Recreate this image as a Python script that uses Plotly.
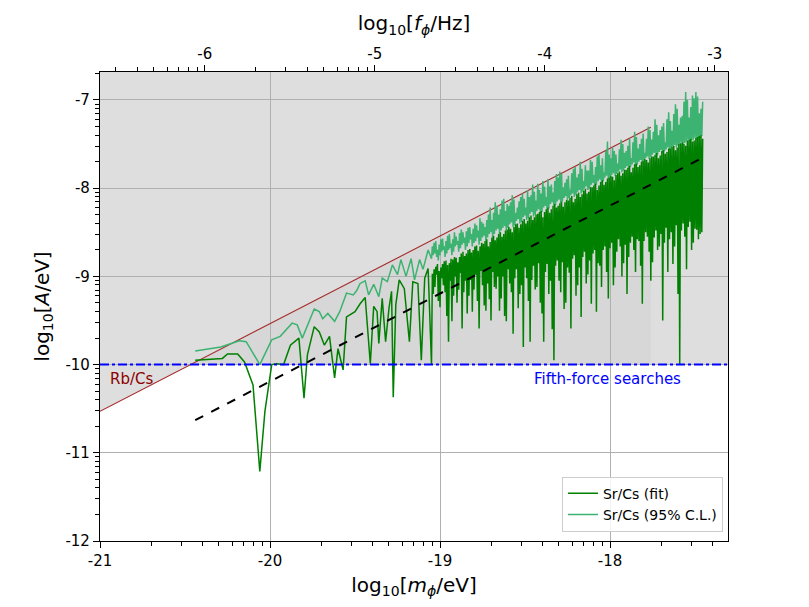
import numpy as np
import plotly.graph_objects as go

# axis limits (log10 of m / eV and log10 of A / eV)
X_RANGE = [-21.0, -17.306]
Y_RANGE = [-12.0, -6.683]
HZ_OFFSET = 14.3835   # log10(1/h), h in eV s -> f = m / h

x_ticks = [-21, -20, -19, -18]
y_ticks = [-12, -11, -10, -9, -8, -7]
f_ticks = [-6, -5, -4, -3]

# bounds
fifth_force_level = -10.0
rbcs_x = [-21.0, -17.76]
rbcs_y = [-10.53, -7.31]
trend_x = [-20.44, -17.46]
trend_y = [-10.63, -7.66]

# Sr/Cs (fit), low-mass part
fit_x = [-20.44, -20.28, -20.25, -20.19, -20.15, -20.10, -20.06, -20.03, -19.99, -19.96,
         -19.92, -19.88, -19.83, -19.80, -19.78, -19.74, -19.71, -19.68, -19.65, -19.62,
         -19.60, -19.57, -19.55, -19.50, -19.47, -19.44, -19.41, -19.39, -19.37, -19.36,
         -19.34, -19.32, -19.30, -19.285, -19.275, -19.26, -19.24, -19.21, -19.18, -19.16,
         -19.13, -19.11, -19.09, -19.07]
fit_y = [-9.95, -9.93, -9.88, -9.88, -9.97, -10.23, -11.21, -10.53, -10.00, -9.99,
         -10.00, -9.78, -9.70, -10.38, -9.89, -9.57, -9.63, -9.78, -9.68, -10.15,
         -9.82, -10.06, -9.46, -9.40, -9.31, -9.24, -9.99, -9.34, -9.40, -9.76,
         -9.25, -9.74, -9.36, -9.17, -10.37, -9.32, -9.04, -9.14, -9.74, -9.06,
         -9.08, -9.95, -9.02, -8.91]

# Sr/Cs (95% C.L.), low-mass part
cl_x = [-20.44, -20.29, -20.18, -20.14, -20.06, -19.99, -19.94, -19.87, -19.84, -19.81,
        -19.74, -19.71, -19.69, -19.66, -19.62, -19.59, -19.55, -19.51, -19.49, -19.47,
        -19.44, -19.42, -19.39, -19.36, -19.34, -19.31, -19.28, -19.25, -19.23, -19.20,
        -19.17, -19.15, -19.12, -19.10, -19.07]
cl_y = [-9.845, -9.80, -9.73, -9.74, -10.00, -9.72, -9.68, -9.53, -9.55, -9.70,
        -9.37, -9.40, -9.48, -9.42, -9.51, -9.40, -9.19, -9.21, -9.16, -9.08,
        -9.05, -9.21, -9.09, -9.23, -9.02, -9.06, -8.87, -8.98, -8.81, -9.00,
        -8.80, -9.04, -8.81, -8.92, -8.70]

# dense high-mass part, sampled every 0.005 from -19.05:
# per block of 0.02 -> low (a), high (b), low (b), high (a)
DENSE_START = -19.05
DENSE_STEP = 0.005

fit_lows_a = [-10.00, -9.12, -9.28, -9.02, -9.18, -9.74, -9.51, -9.00, -9.15, -9.59,
              -9.05, -9.22, -9.40, -8.98, -9.59, -9.10, -9.39, -9.26, -8.95, -9.14,
              -9.39, -9.00, -9.51, -9.08, -9.65, -8.92, -9.20, -9.80, -9.02, -9.74,
              -8.88, -9.12, -9.30, -9.74, -8.86, -9.05, -9.95, -8.82, -9.18, -9.37,
              -8.90, -9.59, -8.76, -9.10, -9.46, -8.72, -8.98, -9.31, -8.70, -8.85,
              -9.12, -8.66, -9.25, -8.62, -8.90, -8.58, -9.00, -8.64, -8.78, -8.55,
              -8.95, -8.60, -9.31, -8.50, -8.72, -8.84, -8.48, -8.66, -9.50, -8.45,
              -8.58, -8.86, -8.42, -10.00, -8.40, -8.92, -8.38, -8.62, -8.47, -8.52]
fit_lows_b = [-9.20, -8.98, -9.35, -9.10, -9.45, -9.05, -9.22, -9.30, -8.96, -9.18,
              -9.42, -9.04, -9.15, -9.28, -8.94, -9.33, -9.08, -9.50, -9.12, -9.00,
              -9.25, -9.45, -8.92, -9.18, -9.02, -9.36, -9.10, -8.90, -9.28, -9.04,
              -9.15, -8.85, -9.42, -8.95, -9.20, -9.60, -8.88, -9.05, -8.84, -9.30,
              -8.96, -8.80, -9.22, -8.90, -8.78, -9.08, -8.82, -8.74, -9.40, -8.88,
              -8.70, -8.95, -8.68, -9.10, -8.72, -8.66, -8.85, -9.20, -8.62, -8.70,
              -8.58, -8.88, -8.60, -8.55, -9.05, -8.56, -8.70, -8.52, -8.62, -8.95,
              -8.50, -8.66, -9.20, -8.48, -8.55, -8.44, -8.70, -8.46, -8.58, -8.50]
fit_highs_a = [-8.92, -8.86, -8.90, -8.83, -8.87, -8.80, -8.78, -8.84, -8.74, -8.77,
               -8.70, -8.73, -8.66, -8.71, -8.62, -8.60, -8.66, -8.56, -8.59, -8.52,
               -8.55, -8.48, -8.44, -8.50, -8.41, -8.45, -8.37, -8.40, -8.33, -8.36,
               -8.30, -8.27, -8.33, -8.24, -8.28, -8.20, -8.22, -8.17, -8.21, -8.13,
               -8.11, -8.16, -8.07, -8.10, -8.03, -8.06, -7.99, -7.97, -8.02, -7.93,
               -7.96, -7.89, -7.86, -7.91, -7.83, -7.86, -7.79, -7.77, -7.82, -7.73,
               -7.76, -7.70, -7.67, -7.71, -7.64, -7.62, -7.66, -7.58, -7.61, -7.55,
               -7.53, -7.57, -7.50, -7.48, -7.52, -7.45, -7.47, -7.43, -7.41, -7.44]
fit_highs_b = [-8.97, -8.89, -8.94, -8.86, -8.82, -8.85, -8.81, -8.79, -8.78, -8.72,
               -8.74, -8.69, -8.70, -8.65, -8.66, -8.63, -8.58, -8.61, -8.54, -8.56,
               -8.50, -8.52, -8.47, -8.46, -8.44, -8.40, -8.41, -8.35, -8.37, -8.31,
               -8.33, -8.29, -8.26, -8.27, -8.22, -8.24, -8.18, -8.20, -8.15, -8.16,
               -8.14, -8.09, -8.12, -8.05, -8.07, -8.01, -8.04, -7.99, -7.95, -7.97,
               -7.91, -7.93, -7.88, -7.87, -7.85, -7.81, -7.83, -7.79, -7.75, -7.77,
               -7.72, -7.74, -7.69, -7.68, -7.66, -7.64, -7.60, -7.63, -7.57, -7.59,
               -7.55, -7.52, -7.54, -7.49, -7.50, -7.46, -7.44, -7.46, -7.42, -7.40]

cl_lows_a = [-8.80, -8.74, -8.82, -8.72, -8.78, -8.70, -8.76, -8.66, -8.72, -8.64,
             -8.70, -8.62, -8.66, -8.60, -8.64, -8.56, -8.60, -8.52, -8.56, -8.48,
             -8.52, -8.45, -8.48, -8.41, -8.44, -8.37, -8.40, -8.33, -8.36, -8.29,
             -8.32, -8.26, -8.28, -8.22, -8.25, -8.18, -8.21, -8.15, -8.17, -8.11,
             -8.13, -8.08, -8.10, -8.04, -8.06, -8.00, -8.02, -7.96, -7.98, -7.92,
             -7.94, -7.88, -7.90, -7.85, -7.86, -7.81, -7.82, -7.77, -7.78, -7.73,
             -7.75, -7.70, -7.71, -7.66, -7.67, -7.62, -7.64, -7.59, -7.60, -7.56,
             -7.57, -7.53, -7.54, -7.50, -7.51, -7.47, -7.48, -7.45, -7.46, -7.43]
cl_lows_b = [-8.76, -8.78, -8.76, -8.70, -8.74, -8.68, -8.72, -8.64, -8.68, -8.62,
             -8.66, -8.58, -8.62, -8.56, -8.60, -8.54, -8.56, -8.50, -8.52, -8.46,
             -8.48, -8.43, -8.45, -8.39, -8.42, -8.35, -8.38, -8.31, -8.34, -8.27,
             -8.30, -8.24, -8.27, -8.20, -8.23, -8.16, -8.19, -8.13, -8.15, -8.09,
             -8.11, -8.06, -8.08, -8.02, -8.04, -7.98, -8.00, -7.94, -7.96, -7.90,
             -7.92, -7.86, -7.88, -7.83, -7.84, -7.79, -7.80, -7.75, -7.76, -7.71,
             -7.73, -7.68, -7.69, -7.64, -7.65, -7.60, -7.62, -7.57, -7.58, -7.54,
             -7.55, -7.51, -7.52, -7.48, -7.49, -7.45, -7.46, -7.43, -7.44, -7.41]
cl_highs_a = [-8.62, -8.70, -8.58, -8.66, -8.54, -8.63, -8.50, -8.60, -8.47, -8.56,
              -8.45, -8.52, -8.40, -8.48, -8.38, -8.44, -8.30, -8.36, -8.16, -8.30,
              -8.14, -8.26, -8.20, -8.08, -8.28, -8.15, -8.06, -8.22, -8.10, -7.96,
              -8.14, -8.02, -7.92, -8.10, -7.98, -8.05, -7.84, -7.81, -7.99, -7.90,
              -8.02, -7.78, -7.88, -7.70, -7.92, -7.80, -7.68, -7.85, -7.64, -7.74,
              -7.82, -7.47, -7.66, -7.58, -7.72, -7.45, -7.60, -7.52, -7.66, -7.36,
              -7.55, -7.44, -7.60, -7.30, -7.45, -7.22, -7.40, -7.30, -7.48, -7.14,
              -7.35, -7.05, -7.28, -7.18, -6.91, -7.20, -6.95, -6.91, -7.15, -7.02]
cl_highs_b = [-8.66, -8.60, -8.64, -8.57, -8.60, -8.52, -8.58, -8.55, -8.51, -8.50,
              -8.49, -8.44, -8.46, -8.42, -8.34, -8.40, -8.36, -8.22, -8.28, -8.20,
              -8.24, -8.12, -8.18, -8.16, -8.13, -8.22, -8.10, -8.12, -8.02, -8.08,
              -8.04, -7.95, -8.06, -7.98, -7.90, -7.96, -7.92, -7.88, -7.84, -7.94,
              -7.86, -7.83, -7.76, -7.84, -7.78, -7.74, -7.80, -7.70, -7.76, -7.62,
              -7.66, -7.58, -7.62, -7.54, -7.62, -7.56, -7.50, -7.58, -7.44, -7.48,
              -7.42, -7.50, -7.38, -7.44, -7.34, -7.36, -7.28, -7.34, -7.26, -7.22,
              -7.24, -7.16, -7.10, -7.20, -7.02, -7.00, -7.08, -6.98, -6.96, -7.10]


def zigzag(lows_a, highs_a, lows_b, highs_b):
    ys = []
    for la, ha, lb, hb in zip(lows_a, highs_a, lows_b, highs_b):
        ys += [la, hb, lb, ha]
    xs = [round(DENSE_START + DENSE_STEP * i, 4) for i in range(len(ys))]
    return xs, ys


dx, dy = zigzag(fit_lows_a, fit_highs_a, fit_lows_b, fit_highs_b)
fit_all_x = fit_x + dx
fit_all_y = fit_y + dy
cx, cy = zigzag(cl_lows_a, cl_highs_a, cl_lows_b, cl_highs_b)
cl_all_x = cl_x + cx
cl_all_y = cl_y + cy

DARK_GREEN = "#008000"
LIGHT_GREEN = "#3cb371"
GREY = "#dedede"

fig = go.Figure()

# exclusion regions (below the grid)
x_cross = float(np.interp(fifth_force_level, rbcs_y, rbcs_x))


def path(px, py):
    return "M " + " L ".join(f"{a},{b}" for a, b in zip(px, py)) + " Z"


shapes = [
    dict(type="path", layer="below", line_width=0, fillcolor=GREY,
         path=path([X_RANGE[0], X_RANGE[1], X_RANGE[1], X_RANGE[0]],
                   [fifth_force_level, fifth_force_level, Y_RANGE[1], Y_RANGE[1]])),
    dict(type="path", layer="below", line_width=0, fillcolor=GREY,
         path=path([rbcs_x[0], rbcs_x[1], rbcs_x[1], rbcs_x[0]],
                   [rbcs_y[0], rbcs_y[1], Y_RANGE[1], Y_RANGE[1]])),
    dict(type="path", layer="below", line_width=0, fillcolor="#d7d7d7",
         path=path([x_cross, rbcs_x[1], rbcs_x[1]],
                   [fifth_force_level, rbcs_y[1], fifth_force_level])),
]

fig.add_trace(go.Scatter(x=rbcs_x, y=rbcs_y, mode="lines",
                         line=dict(color="#a52a2a", width=1.1),
                         showlegend=False, hoverinfo="skip"))
fig.add_trace(go.Scatter(x=cl_all_x, y=cl_all_y, mode="lines", name="Sr/Cs (95% C.L.)",
                         line=dict(color=LIGHT_GREEN, width=1.5), legendrank=2))
fig.add_trace(go.Scatter(x=fit_all_x, y=fit_all_y, mode="lines", name="Sr/Cs (fit)",
                         line=dict(color=DARK_GREEN, width=1.5), legendrank=1))
fig.add_trace(go.Scatter(x=trend_x, y=trend_y, mode="lines",
                         line=dict(color="black", width=2, dash="dash"),
                         showlegend=False, hoverinfo="skip"))
fig.add_trace(go.Scatter(x=X_RANGE, y=[fifth_force_level, fifth_force_level], mode="lines",
                         line=dict(color="blue", width=2, dash="dashdot"),
                         showlegend=False, hoverinfo="skip"))
# carrier for the frequency axis
fig.add_trace(go.Scatter(x=[X_RANGE[0] + HZ_OFFSET, X_RANGE[1] + HZ_OFFSET],
                         y=Y_RANGE, xaxis="x2", mode="markers",
                         marker=dict(opacity=0), showlegend=False, hoverinfo="skip"))


def minor_vals(lo, hi):
    vals = []
    for n in range(int(np.floor(lo)) - 1, int(np.ceil(hi)) + 1):
        for k in range(2, 10):
            v = n + np.log10(k)
            if lo <= v <= hi:
                vals.append(v)
    return vals


tick_font = dict(family="DejaVu Sans", size=15, color="black")
title_font = dict(family="DejaVu Sans", size=20, color="black")
axis_common = dict(showline=True, linecolor="black", linewidth=1.2, ticks="outside",
                   ticklen=6, tickwidth=1.2, tickcolor="black", tickfont=tick_font,
                   zeroline=False)
minor_common = dict(tickmode="array", ticks="outside", ticklen=3.5, tickwidth=1,
                    tickcolor="black", showgrid=False)

# page body has an 8px margin, so the figure is a bit smaller than the window
fig.update_layout(
    width=801, height=599,
    margin=dict(l=92, r=81, t=64, b=66),
    paper_bgcolor="white", plot_bgcolor="white",
    font=dict(family="DejaVu Sans", color="black"),
    shapes=shapes,
    xaxis=dict(range=X_RANGE, tickmode="array", tickvals=x_ticks,
               ticktext=[str(v) for v in x_ticks], mirror=True,
               showgrid=True, gridcolor="#b0b0b0", gridwidth=1,
               minor=dict(tickvals=minor_vals(*X_RANGE), **minor_common),
               title=dict(text="log<sub>10</sub>[<i>m</i><sub><i>ϕ</i></sub>/eV]",
                          font=title_font, standoff=8),
               **axis_common),
    xaxis2=dict(overlaying="x", side="top", anchor="y",
                range=[X_RANGE[0] + HZ_OFFSET, X_RANGE[1] + HZ_OFFSET],
                tickmode="array", tickvals=f_ticks, ticktext=[str(v) for v in f_ticks],
                showgrid=False,
                minor=dict(tickvals=minor_vals(X_RANGE[0] + HZ_OFFSET,
                                               X_RANGE[1] + HZ_OFFSET), **minor_common),
                title=dict(text="log<sub>10</sub>[<i>f</i><sub><i>ϕ</i></sub>/Hz]",
                           font=title_font, standoff=8),
                **axis_common),
    yaxis=dict(range=Y_RANGE, tickmode="array", tickvals=y_ticks,
               ticktext=[str(v) for v in y_ticks], mirror=True,
               showgrid=True, gridcolor="#b0b0b0", gridwidth=1,
               minor=dict(tickvals=minor_vals(*Y_RANGE), **minor_common),
               title=dict(text="log<sub>10</sub>[<i>A</i>/eV]", font=title_font, standoff=10),
               **axis_common),
    legend=dict(x=0.992, y=0.02, xanchor="right", yanchor="bottom",
                bgcolor="rgba(255,255,255,0.85)", bordercolor="#cccccc", borderwidth=1,
                font=dict(family="DejaVu Sans", size=14), traceorder="normal"),
    annotations=[
        dict(x=-20.953, y=-10.16, xref="x", yref="y", text="Rb/Cs", showarrow=False,
             xanchor="left", yanchor="middle",
             font=dict(family="DejaVu Sans", size=15, color="#8b0000")),
        dict(x=-18.459, y=-10.16, xref="x", yref="y", text="Fifth-force searches",
             showarrow=False, xanchor="left", yanchor="middle",
             font=dict(family="DejaVu Sans", size=15, color="blue")),
    ],
)

fig.write_html("out.html")
